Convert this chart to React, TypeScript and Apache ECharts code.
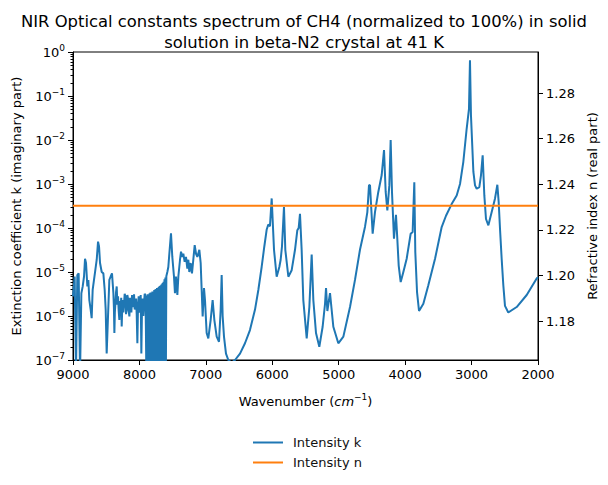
import React, { useEffect, useRef } from 'react';
import * as echarts from 'echarts';

const titleText =
  'NIR Optical constants spectrum of CH4 (normalized to 100%) in solid\nsolution in beta-N2 crystal at 41 K';

// Extinction coefficient k (imaginary part)
const kWavenumber = [
  9000, 8975, 8955, 8935, 8915, 8894, 8874, 8854, 8834, 8819, 8804, 8784, 8769, 8754, 8734, 8719, 8704, 8684, 8664, 8643,
  8623, 8608, 8593, 8568, 8543, 8523, 8508, 8493, 8473, 8453, 8433, 8413,
  8392, 8384, 8377, 8370, 8362, 8352, 8342, 8332, 8322, 8312, 8302, 8292, 8282, 8274, 8267, 8259, 8252, 8242, 8232, 8222,
  8212, 8202, 8192, 8182, 8172, 8162, 8151, 8141, 8131, 8121, 8111, 8101, 8091, 8081, 8071, 8061, 8051, 8041, 8031, 8021,
  8011, 8001, 7991, 7981, 7971, 7961, 7951, 7941, 7931, 7921, 7910, 7903,
  7896, 7889, 7882, 7875, 7868, 7861, 7854, 7847, 7840, 7833, 7826, 7819, 7812, 7805, 7798, 7791, 7784, 7777, 7770, 7763,
  7756, 7749, 7742, 7735, 7728, 7721, 7714, 7707, 7700, 7693, 7686, 7679, 7672, 7665, 7658, 7651, 7644, 7637, 7630, 7623,
  7616, 7609, 7602, 7595, 7580, 7565, 7549, 7525, 7505, 7480, 7465,
  7450, 7429, 7414, 7389, 7374, 7354, 7339, 7319, 7299, 7279, 7264, 7249, 7229, 7209, 7189, 7168, 7148, 7128, 7098, 7078,
  7063, 7048, 7028, 7013, 6988, 6963, 6928, 6898, 6872, 6837, 6802, 6777, 6762, 6747, 6727, 6697, 6662, 6612, 6561, 6486,
  6411, 6336, 6260, 6210, 6160, 6120, 6085, 6060, 6035, 6009, 5974, 5934, 5894, 5874, 5854, 5824, 5804, 5758, 5708, 5658,
  5623, 5603, 5583, 5558, 5533, 5482, 5442, 5407, 5382, 5342, 5292, 5242, 5206, 5191, 5171, 5131, 5081, 5006, 4930, 4830,
  4755, 4680, 4604, 4569, 4544, 4529, 4489, 4454, 4404, 4353, 4318, 4293, 4268, 4238, 4218, 4198, 4168, 4138, 4118, 4097,
  4067, 4027, 3977, 3917, 3887, 3862, 3847, 3821, 3791, 3726, 3651, 3550, 3450, 3385, 3300, 3224, 3174, 3124, 3074, 3039,
  3024, 3009, 2973, 2948, 2923, 2883, 2858, 2833, 2808, 2783, 2747, 2697, 2647, 2612, 2592, 2572, 2547, 2522, 2497, 2447,
  2321, 2170, 2020, 2000,
];
const kValue = [
  2.8e-6, 7.9e-6, 5e-8, 8.5e-6, 9.3e-6, 5e-8, 3.3e-6, 4.7e-6, 7.9e-6, 2.0e-5, 1.6e-5, 4.7e-6, 6.6e-6, 2.3e-6, 1.4e-6, 8.9e-7, 3.9e-6, 6.6e-6, 1.1e-5, 1.9e-5,
  4.9e-5, 3.8e-5, 1.6e-5, 1.0e-5, 9.3e-6, 3.9e-6, 1.4e-6, 1.4e-7, 9.8e-7, 6.6e-6, 7.9e-6, 9.3e-6,
  3.3e-6, 1.5e-6, 4.1e-7, 1.2e-6, 1.9e-6, 3.5e-6, 4.7e-6, 1.8e-6, 2.8e-6, 1.3e-6, 8.1e-7, 2.2e-6, 1.6e-6, 2.6e-6, 5.8e-7, 1.5e-6, 2.3e-6, 1.2e-6, 1.9e-6, 3.2e-6,
  2.8e-6, 1.1e-6, 1.4e-6, 3.0e-6, 2.5e-6, 1.3e-6, 9.8e-7, 2.6e-6, 2.3e-6, 1.2e-6, 3.0e-6, 1.6e-6, 1.9e-6, 3.1e-6, 1.4e-6, 2.2e-6, 2.5e-6, 1.1e-6, 2.4e-7, 1.8e-6,
  2.8e-6, 1.2e-6, 1.4e-6, 3.0e-6, 1.4e-7, 1.6e-6, 2.5e-6, 1.0e-6, 1.9e-6, 3.2e-6, 3.0e-6, 6e-7,
  5e-8, 2.9e-6, 5e-8, 3.1e-6, 4e-7, 2.8e-6, 5e-8, 3.3e-6, 5e-8, 3.4e-6, 1.2e-6, 3.0e-6, 5e-8, 3.6e-6, 5e-8, 3.5e-6, 5e-8, 3.9e-6, 5e-8, 4.0e-6,
  5e-8, 4.1e-6, 5e-8, 4.3e-6, 5e-8, 4.4e-6, 5e-8, 4.6e-6, 5e-8, 4.8e-6, 5e-8, 5.0e-6, 5e-8, 5.3e-6, 5e-8, 5.6e-6, 5e-8, 6.0e-6, 5e-8, 6.8e-6,
  5e-8, 7.5e-6, 5e-8, 8.0e-6, 1.0e-5, 1.3e-5, 2.7e-5, 7.6e-5, 2.2e-5, 7.9e-6, 3.3e-6,
  7.9e-6, 3.0e-6, 7.9e-6, 1.9e-5, 2.9e-5, 2.2e-5, 2.6e-5, 1.7e-5, 2.2e-5, 1.2e-5, 1.9e-5, 1.0e-5, 1.6e-5, 9.3e-6, 1.9e-5, 4.1e-5, 2.6e-5, 2.2e-5, 3.2e-5, 1.6e-5,
  3.9e-6, 9.8e-7, 4.3e-6, 2.3e-6, 4.1e-7, 3.1e-7, 8.1e-7, 2.3e-6, 8.1e-7, 3.4e-7, 2.6e-7, 1.4e-6, 8.5e-6, 9.8e-7, 3.4e-7, 1.4e-7, 1.0e-7, 8.7e-8, 1.0e-7, 1.4e-7,
  2.4e-7, 4.8e-7, 1.4e-6, 3.9e-6, 1.3e-5, 3.8e-5, 9.1e-5, 1.2e-4, 1.1e-4, 4.7e-4, 3.2e-5, 7.8e-6, 1.3e-5, 1.9e-5, 3.8e-5, 3.0e-4, 3.2e-5, 7.8e-6, 1.1e-5, 3.2e-5,
  8.9e-5, 1.0e-4, 2.1e-4, 3.2e-5, 2.3e-6, 3.1e-7, 1.6e-6, 2.5e-5, 2.3e-6, 4.1e-7, 2.0e-7, 5.7e-7, 1.9e-6, 4.3e-6, 1.3e-6, 3.3e-6, 5.7e-7, 2.4e-7, 3.4e-7, 1.6e-6,
  6.6e-6, 3.2e-5, 1.07e-4, 2.3e-4, 9.5e-4, 9.3e-4, 7.4e-5, 2.3e-4, 6.6e-4, 1.6e-3, 5.9e-3, 6.6e-4, 2.5e-4, 9.3e-4, 1.0e-2, 6.6e-4, 5.7e-5, 2.0e-4, 5.7e-5, 1.4e-5,
  5.9e-6, 1.0e-5, 2.0e-5, 7.4e-5, 8.1e-5, 1.1e-3, 2.8e-5, 3.5e-6, 1.3e-6, 1.9e-6, 5.0e-6, 2.0e-5, 1.05e-4, 1.9e-4, 3.5e-4, 5.5e-4, 1.0e-3, 3.2e-3, 1.8e-2, 5.1e-2,
  0.65, 3.6e-2, 1.9e-3, 9.3e-4, 7.8e-4, 8.5e-4, 1.6e-3, 4.5e-3, 5.5e-4, 1.6e-4, 1.15e-4, 2.3e-4, 4.7e-4, 9.6e-4, 3.9e-4, 9.6e-5, 2.0e-5, 5.0e-6, 1.7e-6, 1.2e-6,
  1.6e-6, 3.0e-6, 7.1e-6, 7.6e-6,
];

// Refractive index n (real part)
const nWavenumber = [9000, 2000];
const nValue = [1.2306, 1.2306];

// Axis ticks
const xTicks = [9000, 8000, 7000, 6000, 5000, 4000, 3000, 2000];
const kMajorTicks = [1e-7, 1e-6, 1e-5, 1e-4, 1e-3, 1e-2, 1e-1, 1];
const kMinorMultipliers = [2, 3, 4, 5, 6, 7, 8, 9];
const nTicks = [1.18, 1.2, 1.22, 1.24, 1.26, 1.28];

const FONT = 'DejaVu Sans';

export default function App() {
  const ref = useRef<HTMLDivElement>(null);

  useEffect(() => {
    document.body.style.margin = '0';
    if (!ref.current) return;
    const chart = echarts.init(ref.current, undefined, { renderer: 'svg' });

    const kMinorTicks: number[] = [];
    for (let i = 0; i < kMajorTicks.length - 1; i++) {
      for (const m of kMinorMultipliers) kMinorTicks.push(parseFloat((m * kMajorTicks[i]).toPrecision(3)));
    }

    const kData = kWavenumber.map((w, i) => [w, kValue[i]]);
    const nData = nWavenumber.map((w, i) => [w, nValue[i]]);

    const axisLine = { show: true, lineStyle: { color: '#000', width: 1 } };
    const labelStyle = { color: '#000', fontSize: 13, fontFamily: FONT };

    chart.setOption({
      animation: false,
      backgroundColor: '#fff',
      textStyle: { fontFamily: FONT },
      title: {
        text: titleText,
        left: 'center',
        top: 6,
        textStyle: { fontSize: 16.4, fontWeight: 'normal', color: '#000', fontFamily: FONT, lineHeight: 21 },
      },
      grid: {
        left: 73,
        right: 70,
        top: 52,
        bottom: 125,
        show: true,
        borderColor: '#000',
        borderWidth: 1,
        backgroundColor: 'transparent',
      },
      legend: {
        orient: 'vertical',
        left: 248,
        top: 430,
        icon: 'rect',
        itemWidth: 30,
        itemHeight: 2,
        itemGap: 5,
        textStyle: { color: '#111', fontSize: 13, fontFamily: FONT, padding: [0, 0, 0, 5], lineHeight: 15 },
        data: ['Intensity k', 'Intensity n'],
      },
      xAxis: [
        {
          type: 'value',
          inverse: true,
          min: 2000,
          max: 9000,
          interval: 1000,
          axisLine,
          axisTick: { show: true, length: 5, lineStyle: { color: '#000' }, customValues: xTicks },
          axisLabel: { ...labelStyle, margin: 8, customValues: xTicks, formatter: (v: number) => String(v) },
          splitLine: { show: false },
          name: '{a|Wavenumber (}{i|cm}{s|−1}{a|)}',
          nameLocation: 'middle',
          nameGap: 32,
          nameTextStyle: {
            rich: {
              a: { fontSize: 13, fontFamily: FONT, color: '#000', lineHeight: 18 },
              i: { fontSize: 13, fontFamily: FONT, fontStyle: 'italic', color: '#000', lineHeight: 18 },
              s: { fontSize: 9, fontFamily: FONT, color: '#000', verticalAlign: 'top', lineHeight: 18 },
            },
          },
        },
      ],
      yAxis: [
        {
          type: 'log',
          logBase: 10,
          min: 1e-7,
          max: 1,
          position: 'left',
          axisLine,
          axisTick: { show: true, length: 5, lineStyle: { color: '#000' }, customValues: kMajorTicks },
          axisLabel: {
            margin: 8,
            customValues: kMajorTicks,
            formatter: (v: number) => {
              const e = Math.round(Math.log10(v));
              return '{b|10}{e|' + (e < 0 ? '−' + -e : String(e)) + '}';
            },
            rich: {
              b: { fontSize: 13, fontFamily: FONT, color: '#000', lineHeight: 18 },
              e: { fontSize: 9, fontFamily: FONT, color: '#000', verticalAlign: 'top', lineHeight: 18 },
            },
          },
          splitLine: { show: false },
          name: 'Extinction coefficient k (imaginary part)',
          nameLocation: 'middle',
          nameRotate: 90,
          nameGap: 50,
          nameTextStyle: { ...labelStyle },
        },
        {
          type: 'value',
          min: 1.163,
          max: 1.298,
          position: 'right',
          axisLine,
          axisTick: { show: true, length: 5, lineStyle: { color: '#000' }, customValues: nTicks },
          axisLabel: { ...labelStyle, margin: 8, customValues: nTicks, formatter: (v: number) => v.toFixed(2) },
          splitLine: { show: false },
          name: 'Refractive index n (real part)',
          nameLocation: 'middle',
          nameRotate: 90,
          nameGap: 48,
          nameTextStyle: { ...labelStyle },
        },
        {
          type: 'log',
          logBase: 10,
          min: 1e-7,
          max: 1,
          position: 'left',
          offset: 0,
          axisLine: { show: false },
          axisTick: { show: true, length: 2.5, lineStyle: { color: '#000' }, customValues: kMinorTicks },
          axisLabel: { show: false },
          splitLine: { show: false },
        },
      ],
      series: [
        {
          name: 'Intensity k',
          type: 'line',
          xAxisIndex: 0,
          yAxisIndex: 0,
          data: kData,
          showSymbol: false,
          symbol: 'none',
          lineStyle: { color: '#1f77b4', width: 2 },
          itemStyle: { color: '#1f77b4' },
          clip: true,
        },
        {
          name: 'Intensity n',
          type: 'line',
          xAxisIndex: 0,
          yAxisIndex: 1,
          data: nData,
          showSymbol: false,
          symbol: 'none',
          lineStyle: { color: '#ff7f0e', width: 2 },
          itemStyle: { color: '#ff7f0e' },
          clip: true,
        },
      ],
    });

    return () => chart.dispose();
  }, []);

  return (
    <div
      ref={ref}
      style={{ position: 'absolute', left: 0, top: 0, width: 608, height: 485 }}
    />
  );
}
